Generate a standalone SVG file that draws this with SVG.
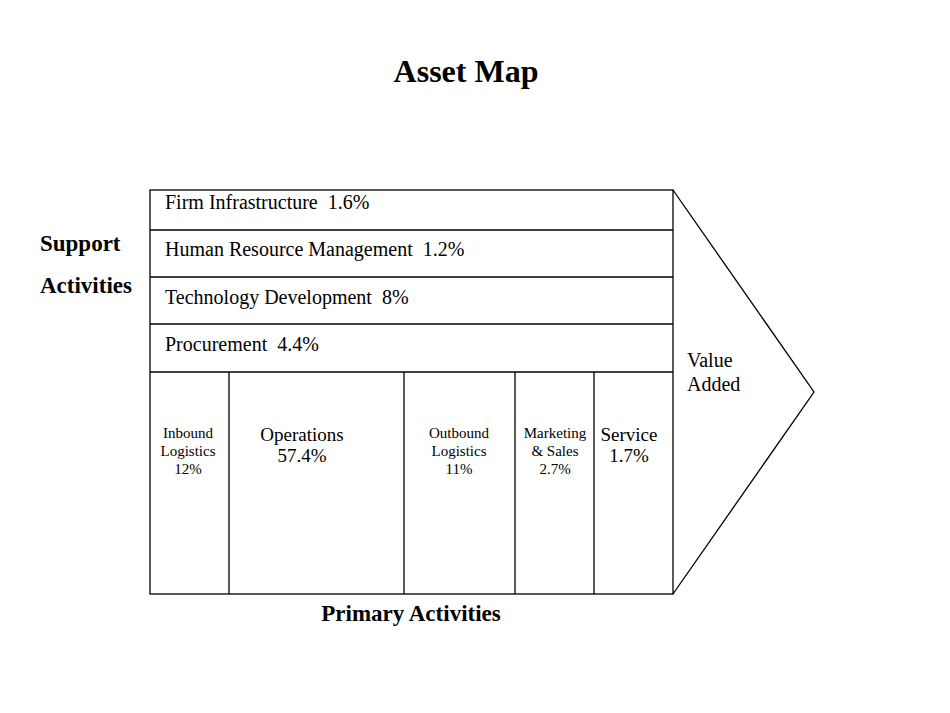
<svg xmlns="http://www.w3.org/2000/svg" width="950" height="713" viewBox="0 0 950 713">
<style>
text{font-family:"Liberation Serif","Times New Roman",serif;fill:#000;white-space:pre}
.b{font-weight:bold}
.r{font-size:20px}
.s{font-size:15px;text-anchor:middle}
.m{font-size:19px;text-anchor:middle}
.k{stroke:#000;stroke-width:1.3;fill:none}
</style>
<rect width="950" height="713" fill="#fff"/>
<text class="b" x="466" y="82" font-size="32" text-anchor="middle">Asset Map</text>
<text class="b" x="40" y="251" font-size="23">Support</text>
<text class="b" x="40" y="293" font-size="23">Activities</text>
<g id="frame">
<rect class="k" x="150" y="190" width="523" height="404"/>
<path class="k" d="M673 190 L814 392 L673 594"/>
</g>
<g id="connectors" class="k">
<line x1="150" y1="230" x2="673" y2="230"/>
<line x1="150" y1="277" x2="673" y2="277"/>
<line x1="150" y1="324" x2="673" y2="324"/>
<line x1="150" y1="372" x2="673" y2="372"/>
<line x1="229" y1="372" x2="229" y2="594"/>
<line x1="404" y1="372" x2="404" y2="594"/>
<line x1="515" y1="372" x2="515" y2="594"/>
<line x1="594" y1="372" x2="594" y2="594"/>
</g>
<g id="firm"><text class="r" x="165" y="209" xml:space="preserve">Firm Infrastructure  1.6%</text></g>
<g id="hrm"><text class="r" x="165" y="256" xml:space="preserve">Human Resource Management  1.2%</text></g>
<g id="tech"><text class="r" x="165" y="304" xml:space="preserve">Technology Development  8%</text></g>
<g id="proc"><text class="r" x="165" y="351" xml:space="preserve">Procurement  4.4%</text></g>
<g id="inbound"><text class="s" x="188" y="438">Inbound</text><text class="s" x="188" y="456">Logistics</text><text class="s" x="188" y="474">12%</text></g>
<g id="ops"><text class="m" x="302" y="441">Operations</text><text class="m" x="302" y="462">57.4%</text></g>
<g id="outbound"><text class="s" x="459" y="438">Outbound</text><text class="s" x="459" y="456">Logistics</text><text class="s" x="459" y="474">11%</text></g>
<g id="mkt"><text class="s" x="555" y="438">Marketing</text><text class="s" x="555" y="456">&amp; Sales</text><text class="s" x="555" y="474">2.7%</text></g>
<g id="svc"><text class="m" x="629" y="441">Service</text><text class="m" x="629" y="462">1.7%</text></g>
<g id="va"><text x="687" y="367" font-size="20">Value</text><text x="687" y="391" font-size="20">Added</text></g>
<text class="b" x="411" y="621" font-size="23" text-anchor="middle">Primary Activities</text>
</svg>
